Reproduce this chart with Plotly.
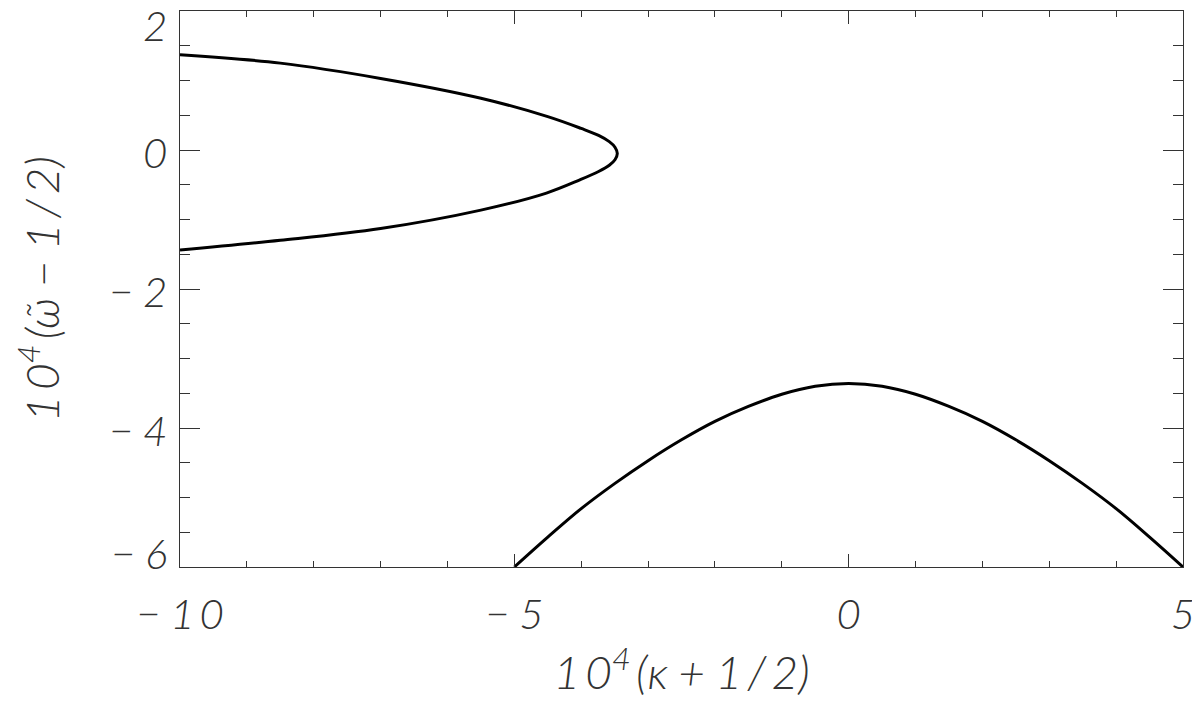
import plotly.graph_objects as go

# Upper (left-opening) branch, traced from lower-left through the vertex to upper-left
upper_x = [-10.0, -8.5, -7.0, -5.5, -4.52, -4.02, -3.74, -3.58, -3.495, -3.46,
           -3.495, -3.58, -3.74, -4.0, -4.5, -5.5, -7.0, -8.5, -10.0]
upper_y = [-1.44, -1.30, -1.13, -0.865, -0.62, -0.43, -0.31, -0.22, -0.14, -0.05,
           0.04, 0.12, 0.21, 0.31, 0.48, 0.745, 1.03, 1.25, 1.37]

# Lower (dome) branch
lower_x = [-5.0, -4.5, -4.0, -3.5, -3.0, -2.5, -2.0, -1.5, -1.0, -0.5, 0.0,
           0.5, 1.0, 1.5, 2.0, 2.5, 3.0, 3.5, 4.0, 4.5, 5.0]
lower_y = [-6.0, -5.57, -5.16, -4.80, -4.47, -4.17, -3.905, -3.69, -3.515, -3.40, -3.36,
           -3.40, -3.515, -3.69, -3.905, -4.17, -4.47, -4.80, -5.16, -5.57, -6.0]

TS = "\u2009"   # thin space
MS = "\u2005"   # wider space after minus signs
x_tickvals = [-10, -5, 0, 5]
x_ticktext = ["\u2212" + MS + "1" + TS + "0", "\u2212" + MS + "5", "0", "5"]
y_tickvals = [2, 0, -2, -4, -6]
y_ticktext = ["2", "0", "\u2212" + MS + "2", "\u2212" + MS + "4", "\u2212" + MS + "6"]
y_label_shift = [-14, -2, -2, -2, 14]

x_title = ("1" + TS + "0<sup>4</sup>" + TS + "(\u03ba" + MS + "+" + MS + "1" + TS + "/" + TS + "2)")
y_title = ("1" + TS + "0<sup>4</sup>" + TS + "(\u03c9\u0303" + MS + "\u2212" + MS + "1" + TS + "/" + TS + "2)")

FONT = dict(family="Lato, 'DejaVu Sans', sans-serif", size=42, color="#333333", style="italic", weight=300)
TFONT = dict(FONT, size=46)
AXCOL = "#333333"

fig = go.Figure()
fig.add_trace(go.Scatter(x=upper_x, y=upper_y, mode="lines",
                         line=dict(color="black", width=3, shape="spline", smoothing=1.0),
                         showlegend=False, hoverinfo="skip"))
fig.add_trace(go.Scatter(x=lower_x, y=lower_y, mode="lines",
                         line=dict(color="black", width=3, shape="spline", smoothing=1.0),
                         showlegend=False, hoverinfo="skip"))

# The page body adds an 8px offset, so the figure is 8px smaller and margins compensate
fig.update_layout(
    width=1192, height=698,
    margin=dict(l=172, r=17, t=3, b=139, autoexpand=False),
    paper_bgcolor="white", plot_bgcolor="white",
    font=FONT,
)
fig.update_xaxes(
    range=[-10, 5], tickvals=x_tickvals, ticktext=x_ticktext,
    ticks="inside", ticklen=13, tickwidth=1, tickcolor=AXCOL,
    showline=True, linecolor=AXCOL, linewidth=1, mirror="ticks",
    showgrid=False, zeroline=False, automargin=False,
    minor=dict(dtick=1, tick0=0, ticks="inside", ticklen=6, tickwidth=1, tickcolor=AXCOL, showgrid=False),
    ticklabelstandoff=11, ticklabeloverflow="allow",
    tickfont=FONT,
    title=dict(text=x_title, font=TFONT, standoff=19),
)
fig.update_yaxes(
    range=[-6, 2], tickvals=y_tickvals, ticktext=y_ticktext,
    ticks="inside", ticklen=20, tickwidth=1, tickcolor=AXCOL,
    showline=True, linecolor=AXCOL, linewidth=1, mirror="ticks",
    showgrid=False, zeroline=False, automargin=False,
    minor=dict(dtick=0.5, tick0=0, ticks="inside", ticklen=10, tickwidth=1, tickcolor=AXCOL, showgrid=False),
    showticklabels=False,
    title=dict(text=y_title, font=TFONT, standoff=110),
)

# y tick labels, placed on the y scale (end labels nudged inward as in the original)
for v, t, s in zip(y_tickvals, y_ticktext, y_label_shift):
    fig.add_annotation(x=0, xref="paper", y=v, yref="y", text=t, showarrow=False,
                       xanchor="right", yanchor="middle", xshift=-11, yshift=s, font=FONT)

fig.write_html("out.html")
